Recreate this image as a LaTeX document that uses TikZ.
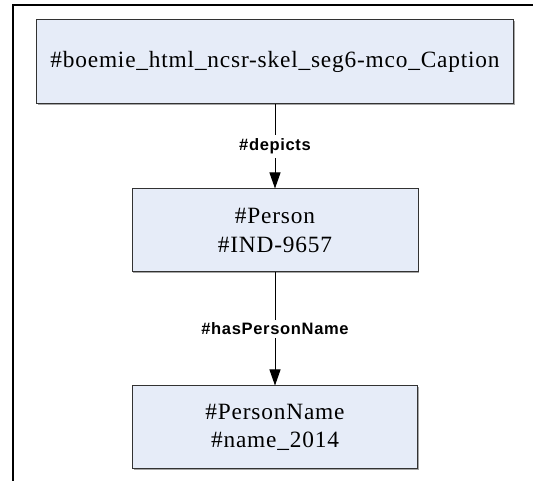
\documentclass[tikz,border=0pt]{standalone}
\usepackage{fontspec}
\usetikzlibrary{arrows.meta,shadows}
\newfontfamily\boxfont[LetterSpace=3.5]{Liberation Serif}
\newfontfamily\labelfont[LetterSpace=4]{Liberation Sans}
\definecolor{boxfill}{RGB}{230,236,248}
\definecolor{boxline}{RGB}{50,50,50}
\tikzset{
  classbox/.style={draw=boxline, line width=0.75pt, fill=boxfill,
    drop shadow={shadow xshift=0.75pt, shadow yshift=-0.75pt, fill=gray!70, opacity=1},
    inner sep=0pt, align=center,
    font=\boxfont\fontsize{17.5pt}{21.5pt}\selectfont},
  conn/.style={draw=black, line width=0.75pt,
    -{Triangle[width=8.25pt,length=12pt]}},
  edgelabel/.style={fill=white, inner xsep=1.5pt, inner ysep=2.5pt,
    font=\labelfont\bfseries\fontsize{12.4pt}{14pt}\selectfont},
  frameline/.style={draw=black, line width=1.8pt}
}
\begin{document}
\begin{tikzpicture}[x=0.75pt, y=-0.75pt]
  \useasboundingbox (0,0) rectangle (533,481);
  % outer frame: left and top edges only
  \draw[frameline] (13,481) -- (13,5) -- (533,5);

  \node[classbox, minimum width=357.75pt, minimum height=63pt] (caption) at (275,62)
    {\#boemie\_html\_ncsr-skel\_seg6-mco\_Caption};
  \node[classbox, minimum width=214.5pt, minimum height=62.25pt] (person) at (275,230.5)
    {\#Person\\\#IND-9657};
  \node[classbox, minimum width=213.75pt, minimum height=62.25pt] (pname) at (275,427.5)
    {\#PersonName\\\#name\_2014};

  \draw[conn] (caption) -- node[edgelabel] {\#depicts} (person);
  \draw[conn] (person) -- node[edgelabel] {\#hasPersonName} (pname);
\end{tikzpicture}
\end{document}
